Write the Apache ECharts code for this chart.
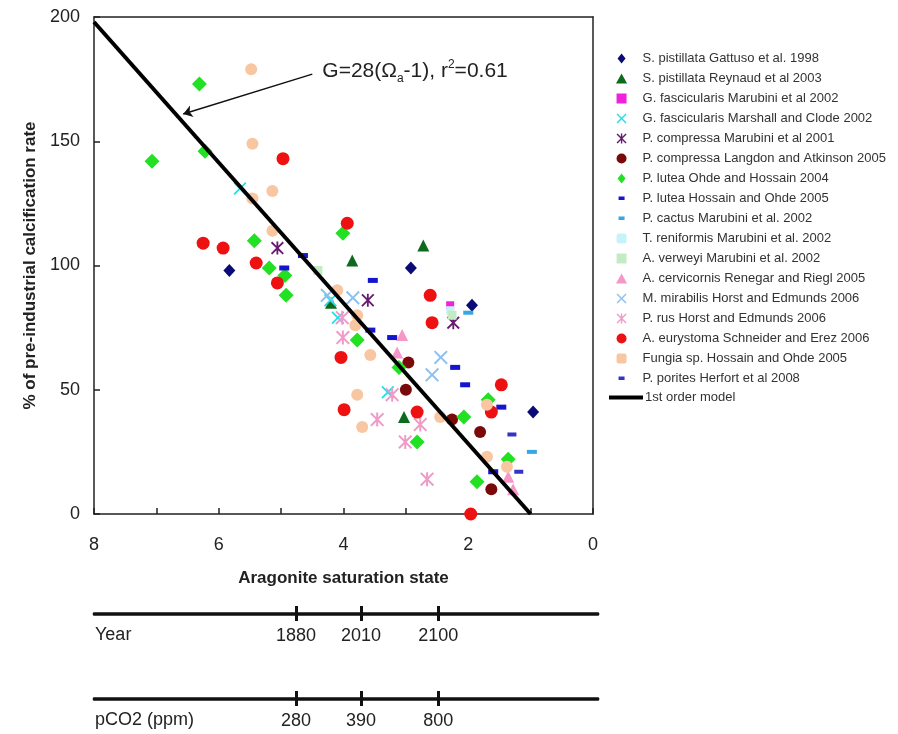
<!DOCTYPE html>
<html lang="en" style="height: 100%">
<head>
  <meta charset="utf-8">
</head>
<body style="height: 100%; margin: 0">
  <div id="container" style="width: 898px; height: 734px"></div>

  <script type="text/javascript" src="https://fastly.jsdelivr.net/npm/echarts@6/dist/echarts.min.js"></script>

  <script type="text/javascript">
    // each point: [aragonite saturation state, % of pre-industrial calcification rate]
    var gattuso1998 = [[5.83, 98], [2.92, 99], [1.94, 84], [0.96, 41]];
    var reynaud2003 = [[2.72, 108], [3.86, 102], [4.2, 85], [3.03, 39]];
    var marubiniGfas2002 = [[2.29, 84]];
    var marshallClode2002 = [[5.66, 131], [4.21, 86], [4.09, 79], [3.29, 49]];
    var marubiniPcom2001 = [[5.06, 107], [3.61, 86], [2.24, 77]];
    var langdonAtkinson2005 = [[2.96, 61], [3.0, 50], [2.26, 38], [1.81, 33], [1.63, 10]];
    var ohdeHossain2004 = [[6.31, 173], [7.07, 142], [6.22, 146], [5.43, 110], [5.19, 99], [4.94, 96],
      [4.92, 88], [4.01, 113], [3.78, 70], [3.11, 59], [2.82, 29], [2.07, 39], [1.86, 13], [1.36, 22], [1.68, 46]];
    var hossainOhde2005 = [[4.65, 104], [4.95, 99], [3.53, 94], [3.57, 74], [3.22, 71], [2.21, 59],
      [2.05, 52], [1.47, 43], [1.6, 17]];
    var marubiniPcac2002 = [[0.98, 25], [2.0, 81]];
    var marubiniTren2002 = [[2.29, 82]];
    var marubiniAver2002 = [[4.41, 98], [2.26, 80]];
    var renegarRiegl2005 = [[3.06, 72], [3.14, 65], [1.28, 10], [1.36, 15]];
    var horstMmir2006 = [[4.26, 88], [3.85, 87], [2.44, 63], [2.58, 56]];
    var horstPrus2006 = [[4.02, 79], [4.01, 71], [3.22, 48], [3.46, 38], [2.77, 36], [3.01, 29], [2.66, 14]];
    var schneiderErez2006 = [[4.97, 143], [6.25, 109], [5.93, 107], [5.4, 101], [5.06, 93], [3.94, 117],
      [4.04, 63], [3.99, 42], [2.82, 41], [2.61, 88], [2.58, 77], [1.47, 52], [1.63, 41], [1.96, 0]];
    var hossainOhdeFungia2005 = [[5.48, 179], [5.46, 149], [5.14, 130], [5.46, 127], [5.14, 114], [4.1, 90],
      [3.78, 80], [3.81, 76], [3.57, 64], [3.78, 48], [3.7, 35], [2.45, 39], [1.7, 44], [1.7, 23], [1.38, 19]];
    var herfort2008 = [[1.3, 32], [1.19, 17]];
    var modelLine = [[8, 198], [1, 0]];

    // extra scales under the chart
    var yearTickOmega = [4.76, 3.72, 2.48];
    var yearLabels = ['1880', '2010', '2100'];
    var pco2Labels = ['280', '390', '800'];

    var xMark = 'path://M1,0 L5,4 L9,0 L10,1 L6,5 L10,9 L9,10 L5,6 L1,10 L0,9 L4,5 L0,1 Z';
    var starMark = 'path://M1,0 L5,4 L9,0 L10,1 L6,5 L10,9 L9,10 L5,6 L1,10 L0,9 L4,5 L0,1 Z M4.3,0 L5.7,0 L5.7,10 L4.3,10 Z';
    // legend icons (paths keep their aspect inside the legend box)
    var icDiamond = 'path://M4,0 L8,5 L4,10 L0,5 Z';
    var icTriangle = 'path://M5,0 L10,9 L0,9 Z';
    var icSquare = 'path://M0,0 L9,0 L9,9 L0,9 Z';
    var icRound = 'path://M2,0 L7,0 Q9,0 9,2 L9,7 Q9,9 7,9 L2,9 Q0,9 0,7 L0,2 Q0,0 2,0 Z';
    var icCircle = 'path://M0,5 A5,5 0 1,1 10,5 A5,5 0 1,1 0,5 Z';
    var icDash = 'path://M0,0 L0.01,0 L0,0.01 Z M2,3 L8,3 L8,6.5 L2,6.5 Z M10,10 L9.99,10 L10,9.99 Z';

    var groups = [
      ['S. pistillata Gattuso et al. 1998', gattuso1998, 'diamond', [12, 13], '#0b0b78', icDiamond],
      ['S. pistillata Reynaud et al 2003', reynaud2003, 'triangle', 12, '#0e6b1e', icTriangle],
      ['G. fascicularis Marubini et al 2002', marubiniGfas2002, 'rect', 8, '#ee22dd', icSquare],
      ['G. fascicularis Marshall and Clode 2002', marshallClode2002, xMark, 13, '#22e0e8', xMark],
      ['P. compressa Marubini et al 2001', marubiniPcom2001, starMark, 13, '#661a70', starMark],
      ['P. compressa Langdon and Atkinson 2005', langdonAtkinson2005, 'circle', 12, '#7a0a0a', icCircle],
      ['P. lutea Ohde and Hossain 2004', ohdeHossain2004, 'diamond', 15, '#22e022', icDiamond],
      ['P. lutea Hossain and Ohde 2005', hossainOhde2005, 'rect', [10, 5], '#1515d0', icDash],
      ['P. cactus Marubini et al. 2002', marubiniPcac2002, 'rect', [10, 4], '#36a6e6', icDash],
      ['T. reniformis Marubini et al. 2002', marubiniTren2002, 'rect', 8, '#c6f2fa', icRound],
      ['A. verweyi Marubini et al. 2002', marubiniAver2002, 'rect', 9, '#c4ecc4', icSquare],
      ['A. cervicornis Renegar and Riegl 2005', renegarRiegl2005, 'triangle', 12, '#f598c8', icTriangle],
      ['M. mirabilis Horst and Edmunds 2006', horstMmir2006, xMark, 14, '#8cc0f0', xMark],
      ['P. rus Horst and Edmunds 2006', horstPrus2006, starMark, 14, '#f09ac8', starMark],
      ['A. eurystoma Schneider and Erez 2006', schneiderErez2006, 'circle', 13, '#ee1111', icCircle],
      ['Fungia sp. Hossain and Ohde 2005', hossainOhdeFungia2005, 'circle', 12, '#f8c6a0', icRound],
      ['P. porites Herfort et al 2008', herfort2008, 'rect', [9, 4], '#3434c4', icDash]
    ];

    var dom = document.getElementById('container');
    var myChart = echarts.init(dom, null, { renderer: 'canvas' });
    var font = 'Liberation Sans';

    var seriesList = groups.map(function (g) {
      return {
        type: 'scatter',
        name: g[0],
        data: g[1],
        symbol: g[2],
        symbolSize: g[3],
        itemStyle: { color: g[4], opacity: 1 },
        xAxisIndex: 0,
        yAxisIndex: 0
      };
    });

    seriesList.push({
      type: 'line',
      name: '1st order model',
      data: modelLine,
      symbol: 'none',
      xAxisIndex: 0,
      yAxisIndex: 0,
      lineStyle: { color: '#000', width: 4 },
      itemStyle: { color: '#000' },
      z: 5,
      markPoint: {
        symbol: 'circle',
        symbolSize: 0,
        data: [{ coord: [4.34, 178] }],
        label: {
          show: true,
          position: 'right',
          distance: 0,
          formatter: '{b|G=28(Ω}{s|a}{b|-1), r}{p|2}{b|=0.61}',
          rich: {
            b: { fontSize: 21, color: '#222', fontFamily: font, lineHeight: 26, verticalAlign: 'middle' },
            s: { fontSize: 12, color: '#222', fontFamily: font, verticalAlign: 'bottom', lineHeight: 26 },
            p: { fontSize: 12, color: '#222', fontFamily: font, verticalAlign: 'top', lineHeight: 26 }
          }
        }
      },
      markLine: {
        silent: true,
        symbol: ['none', 'arrow'],
        symbolSize: 9,
        lineStyle: { color: '#111', width: 1.5, type: 'solid' },
        label: { show: false },
        data: [[{ coord: [4.5, 177] }, { coord: [6.57, 161] }]]
      }
    });

    var frameAxis = {
      axisLine: { show: true, onZero: false, lineStyle: { color: '#222', width: 1.5 } },
      axisTick: { show: false },
      axisLabel: { show: false },
      splitLine: { show: false }
    };
    var hiddenAxis = { show: false, axisTick: { show: false }, axisLine: { show: false, onZero: false }, axisLabel: { show: false }, splitLine: { show: false } };

    var option = {
      backgroundColor: '#fff',
      animation: false,
      textStyle: { fontFamily: font },
      grid: [
        { left: 94, top: 17, width: 499, height: 497 },
        { left: 94, top: 613, width: 504, height: 1 },
        { left: 94, top: 698, width: 504, height: 1 }
      ],
      legend: [
        {
          orient: 'vertical',
          left: 611,
          top: 47,
          itemWidth: 12,
          itemHeight: 10,
          itemGap: 7,
          textStyle: { fontSize: 13, lineHeight: 13, color: '#333', fontFamily: font, padding: [0, 0, 0, 10] },
          data: groups.map(function (g) { return { name: g[0], icon: g[5] }; })
        },
        {
          orient: 'vertical',
          left: 604,
          top: 386,
          itemWidth: 34,
          itemHeight: 4,
          itemGap: 0,
          textStyle: { fontSize: 13, lineHeight: 13, color: '#333', fontFamily: font, padding: [0, 0, 0, -3] },
          data: [{ name: '1st order model', icon: 'rect' }]
        }
      ],
      xAxis: [
        {
          gridIndex: 0,
          type: 'value',
          position: 'bottom',
          min: 0,
          max: 8,
          interval: 1,
          inverse: true,
          name: 'Aragonite saturation state',
          nameLocation: 'middle',
          nameGap: 56,
          nameTextStyle: { fontSize: 17, fontWeight: 'bold', color: '#222' },
          axisLine: { onZero: false, lineStyle: { color: '#222', width: 1.5 } },
          axisTick: { inside: true, length: 6, lineStyle: { color: '#222', width: 1.5 } },
          axisLabel: {
            margin: 22, fontSize: 18, color: '#222',
            formatter: function (v) { return v % 2 === 0 ? String(v) : ''; }
          },
          splitLine: { show: false }
        },
        Object.assign({ gridIndex: 0, type: 'value', position: 'top', min: 0, max: 8, inverse: true }, frameAxis),
        {
          gridIndex: 1,
          type: 'value',
          min: -0.08,
          max: 8,
          inverse: true,
          position: 'bottom',
          axisLine: { onZero: false, lineStyle: { color: '#111', width: 2.5 } },
          axisTick: { customValues: yearTickOmega, length: 7, lineStyle: { color: '#111', width: 3 } },
          axisLabel: {
            customValues: yearTickOmega, margin: 13, fontSize: 18, color: '#222',
            formatter: function (v) { return yearLabels[yearTickOmega.indexOf(v)]; }
          },
          splitLine: { show: false }
        },
        {
          gridIndex: 1,
          type: 'value',
          min: -0.08,
          max: 8,
          inverse: true,
          position: 'top',
          axisLine: { onZero: false, lineStyle: { color: '#111', width: 2.5 } },
          axisTick: { customValues: yearTickOmega, length: 7, lineStyle: { color: '#111', width: 3 } },
          axisLabel: { show: false },
          splitLine: { show: false }
        },
        {
          gridIndex: 2,
          type: 'value',
          min: -0.08,
          max: 8,
          inverse: true,
          position: 'bottom',
          axisLine: { onZero: false, lineStyle: { color: '#111', width: 2.5 } },
          axisTick: { customValues: yearTickOmega, length: 7, lineStyle: { color: '#111', width: 3 } },
          axisLabel: {
            customValues: yearTickOmega, margin: 13, fontSize: 18, color: '#222',
            formatter: function (v) { return pco2Labels[yearTickOmega.indexOf(v)]; }
          },
          splitLine: { show: false }
        },
        {
          gridIndex: 2,
          type: 'value',
          min: -0.08,
          max: 8,
          inverse: true,
          position: 'top',
          axisLine: { onZero: false, lineStyle: { color: '#111', width: 2.5 } },
          axisTick: { customValues: yearTickOmega, length: 7, lineStyle: { color: '#111', width: 3 } },
          axisLabel: { show: false },
          splitLine: { show: false }
        }
      ],
      yAxis: [
        {
          gridIndex: 0,
          type: 'value',
          position: 'left',
          min: 0,
          max: 200,
          interval: 50,
          name: '% of pre-industrial calcification rate',
          nameLocation: 'middle',
          nameGap: 55,
          nameTextStyle: { fontSize: 17, fontWeight: 'bold', color: '#222' },
          axisLine: { show: true, onZero: false, lineStyle: { color: '#222', width: 1.5 } },
          axisTick: { show: true, inside: true, length: 6, lineStyle: { color: '#222', width: 1.5 } },
          axisLabel: { margin: 14, fontSize: 18, color: '#222' },
          splitLine: { show: false }
        },
        Object.assign({ gridIndex: 0, type: 'value', position: 'right', min: 0, max: 200 }, frameAxis),
        Object.assign({ gridIndex: 1, type: 'value', position: 'left' }, hiddenAxis),
        Object.assign({ gridIndex: 2, type: 'value', position: 'left' }, hiddenAxis)
      ],
      graphic: [
        { type: 'text', left: 95, top: 626, style: { text: 'Year', fontSize: 18, fill: '#222', fontFamily: font } },
        { type: 'text', left: 95, top: 711, style: { text: 'pCO2 (ppm)', fontSize: 18, fill: '#222', fontFamily: font } }
      ],
      series: seriesList
    };

    myChart.setOption(option);
    window.addEventListener('resize', myChart.resize);
  </script>
</body>
</html>
